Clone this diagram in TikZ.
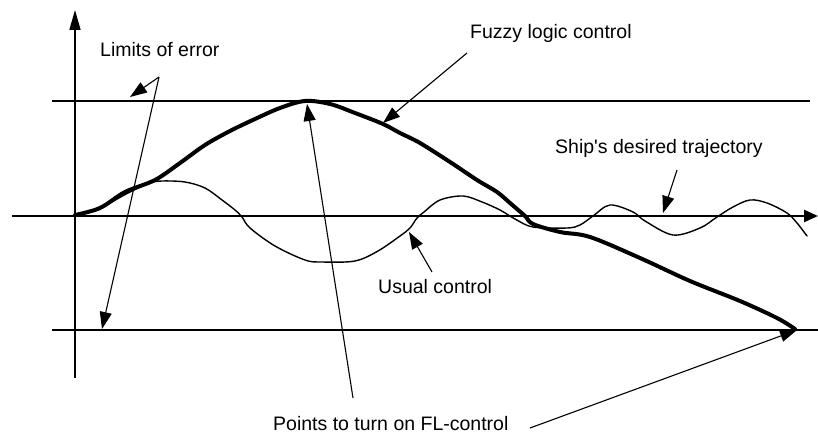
\documentclass[tikz,border=0pt]{standalone}
\usepackage{fontspec}
\setmainfont{Liberation Sans}
\usetikzlibrary{arrows.meta}
\begin{document}
\begin{tikzpicture}[x=1pt,y=-1pt,
  lbl/.style={anchor=base west,inner sep=0pt,font=\fontsize{19.5}{22}\selectfont},
  ptr/.style={line width=1.1pt,-{Triangle[length=17pt,width=12pt]}},
  limit/.style={line width=1.7pt},
  fl/.style={line width=4pt,line join=round,line cap=round},
  usual/.style={line width=1.4pt,line join=round,line cap=round}]
\useasboundingbox[fill=white] (0,0) rectangle (818,435);
% axes and limit lines
\coordinate (ybot) at (75,378);
\coordinate (ytop) at (75,10);
\coordinate (mL) at (12,216);
\coordinate (mR) at (818,216);
\coordinate (uL) at (52,101);
\coordinate (uR) at (810,101);
\coordinate (lL) at (52,330);
\coordinate (lR) at (818,330);
\draw[limit,-{Triangle[length=20pt,width=11pt]}] (ybot) -- (ytop);
\draw[line width=2.6pt,-{Triangle[length=14pt,width=12pt]}] (mL) -- (mR);
\draw[limit] (uL) -- (uR);
\draw[limit] (lL) -- (lR);
% usual control curve
\draw[usual] plot[smooth,tension=0.55] coordinates {(75,215) (95,211) (110,203) (130,192) (150,183) (162,181) (185,182) (205,188) (222,200) (235,210) (242,217) (250,228) (275,246) (305,260) (322,262) (355,261) (378,251) (400,236) (410,228) (417,218) (424,212) (440,200) (463,196) (482,202) (500,210) (515,219) (533,227) (567,228) (580,225) (593,216) (610,205) (633,212) (645,221) (673,235) (700,228) (717,217) (733,207) (750,200) (767,203) (787,213) (797,223) (807,236)};
% fuzzy logic control curve
\draw[fl] plot[smooth,tension=0.55] coordinates {(75,215) (100,208) (125,192) (155,180) (180,163) (205,145) (230,131) (255,119) (280,108) (305,101) (330,104) (355,113) (383,124) (400,133) (420,143) (450,162) (477,180) (497,192) (510,203) (525,216) (533,224) (560,232) (590,237) (640,258) (690,281) (740,301) (777,318) (795,329)};
% labels
\node[lbl] (lim) at (100,57) {Limits of error};
\node[lbl] (fuzzy) at (470,39) {Fuzzy logic control};
\node[lbl] (ship) at (555,154) {Ship\textquotesingle s desired trajectory};
\node[lbl] (usual) at (378,293) {Usual control};
\node[lbl] (points) at (273,430) {Points to turn on FL-control};
% pointer ends
\coordinate (limA) at (159,77);
\coordinate (limT1) at (130,97);
\coordinate (limT2) at (102,329);
\coordinate (fzA) at (467,53);
\coordinate (fzT) at (383,123);
\coordinate (shA) at (677,170);
\coordinate (shT) at (663,213);
\coordinate (usA) at (432,272);
\coordinate (usT) at (409,232);
\coordinate (ptA) at (353,398);
\coordinate (ptT1) at (307,104);
\coordinate (ptB) at (530,428);
\coordinate (ptT2) at (797,330);
\draw[ptr] (limA) -- (limT1);
\draw[ptr] (limA) -- (limT2);
\draw[ptr] (fzA) -- (fzT);
\draw[ptr] (shA) -- (shT);
\draw[ptr] (usA) -- (usT);
\draw[ptr] (ptA) -- (ptT1);
\draw[ptr] (ptB) -- (ptT2);
\end{tikzpicture}
\end{document}
